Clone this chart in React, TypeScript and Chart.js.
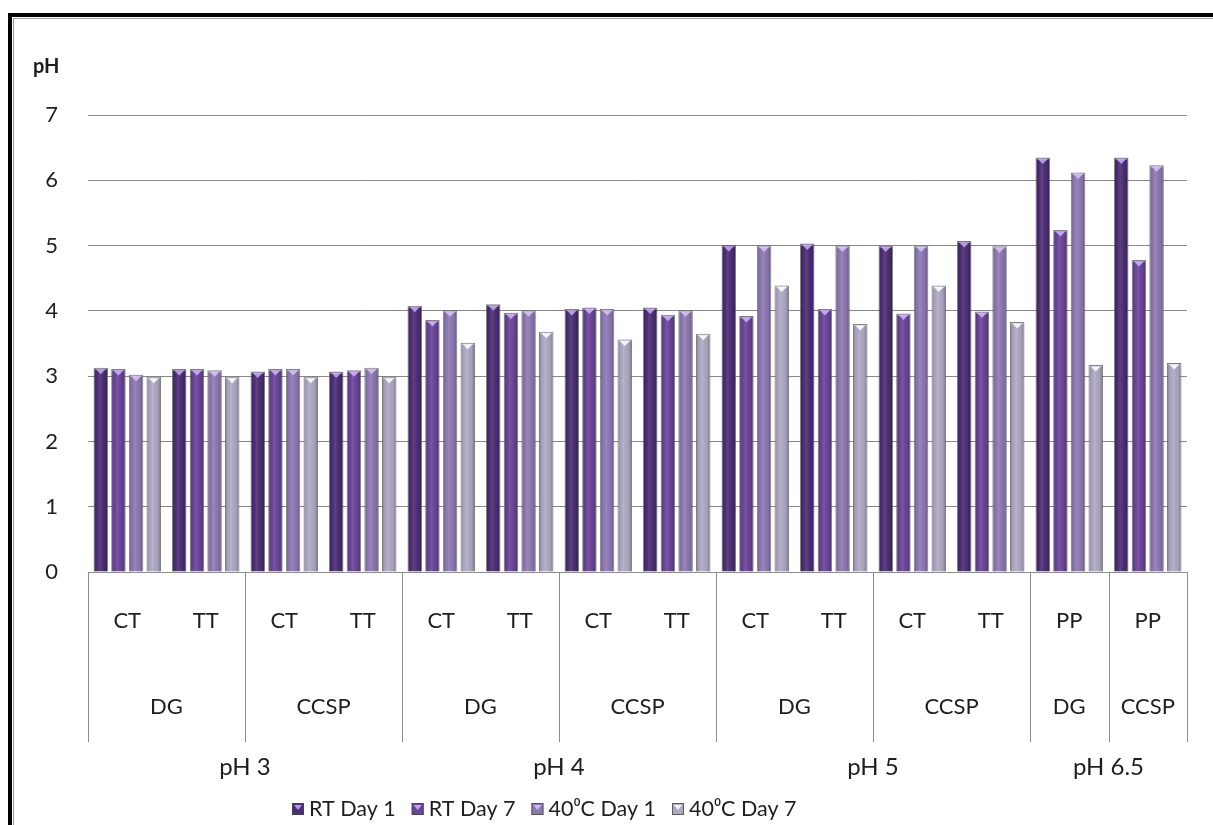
import React, { useEffect, useRef } from "react";
import { Chart, registerables } from "chart.js";

Chart.register(...registerables);

// ---- data ----
const categories = ["CT", "TT", "CT", "TT", "CT", "TT", "CT", "TT", "CT", "TT", "CT", "TT", "PP", "PP"];
const subgroupLabels = ["DG", "CCSP", "DG", "CCSP", "DG", "CCSP", "DG", "CCSP"];
const subgroupSpans = [2, 2, 2, 2, 2, 2, 1, 1];
const groupLabels = ["pH 3", "pH 4", "pH 5", "pH 6.5"];
const groupSpans = [4, 4, 4, 2];
const seriesNames = ["RT Day 1", "RT Day 7", "40\u2070C Day 1", "40\u2070C Day 7"];
const rtDay1 = [3.13, 3.11, 3.07, 3.07, 4.08, 4.1, 4.03, 4.05, 5.01, 5.03, 5.0, 5.07, 6.35, 6.35];
const rtDay7 = [3.11, 3.11, 3.11, 3.09, 3.86, 3.97, 4.05, 3.94, 3.92, 4.03, 3.96, 3.99, 5.24, 4.78];
const c40Day1 = [3.02, 3.09, 3.11, 3.13, 4.01, 4.01, 4.03, 4.01, 5.0, 5.0, 5.0, 4.99, 6.12, 6.23];
const c40Day7 = [2.99, 2.99, 2.99, 2.99, 3.51, 3.68, 3.56, 3.65, 4.39, 3.8, 4.39, 3.83, 3.17, 3.2];
const yMin = 0;
const yMax = 7;
const yStep = 1;
const yAxisTitle = "pH";

// ---- styles ----
const FONT = "Lato, 'Open Sans', sans-serif";
const seriesColors = ["#4B2D74", "#6A4499", "#8E79B4", "#B1A9C6"];
const capColors = ["#B697EA", "#C3A4F4", "#CDB8F0", "#F6F4FB"];

const barStylePlugin = {
  id: "barStyle",
  afterDatasetsDraw(chart: any) {
    const ctx = chart.ctx;
    ctx.save();
    chart.data.datasets.forEach((ds: any, di: number) => {
      const meta = chart.getDatasetMeta(di);
      meta.data.forEach((el: any) => {
        const { x, y, base, width } = el.getProps(["x", "y", "base", "width"], true);
        const left = x - width / 2;
        const h = base - y;
        const g = ctx.createLinearGradient(left, 0, left + width, 0);
        g.addColorStop(0, "rgba(0,0,0,0.28)");
        g.addColorStop(0.18, "rgba(0,0,0,0.05)");
        g.addColorStop(0.42, "rgba(255,255,255,0.10)");
        g.addColorStop(0.75, "rgba(0,0,0,0.05)");
        g.addColorStop(1, "rgba(0,0,0,0.30)");
        ctx.fillStyle = g;
        ctx.fillRect(left + 1, y + 1, width - 2, h - 1);
        ctx.fillStyle = capColors[di];
        ctx.beginPath();
        ctx.moveTo(x - width * 0.34, y + 1.5);
        ctx.lineTo(x + width * 0.34, y + 1.5);
        ctx.lineTo(x, y + 6.5);
        ctx.closePath();
        ctx.fill();
        ctx.strokeStyle = "rgba(255,255,255,0.35)";
        ctx.lineWidth = 1;
        ctx.beginPath();
        ctx.moveTo(left + 1, y + 1.5);
        ctx.lineTo(left + width - 1, y + 1.5);
        ctx.stroke();
      });
    });
    ctx.restore();
  },
};

const axisExtrasPlugin = {
  id: "axisExtras",
  afterDraw(chart: any) {
    const ctx = chart.ctx;
    const xs = chart.scales.x;
    const area = chart.chartArea;
    const cw = xs.getPixelForValue(1) - xs.getPixelForValue(0);
    const startX = xs.getPixelForValue(0) - cw / 2;
    const sepBottom = 742;
    ctx.save();
    ctx.strokeStyle = "#8c8c8c";
    ctx.lineWidth = 1;
    let idx = 0;
    const edges = [0];
    subgroupSpans.forEach((s) => {
      idx += s;
      edges.push(idx);
    });
    edges.forEach((e) => {
      const px = Math.round(startX + e * cw) + 0.5;
      ctx.beginPath();
      ctx.moveTo(px, area.bottom);
      ctx.lineTo(px, sepBottom);
      ctx.stroke();
    });
    ctx.fillStyle = "#1e1e1e";
    ctx.textAlign = "center";
    ctx.textBaseline = "middle";
    ctx.font = `22px ${FONT}`;
    idx = 0;
    subgroupLabels.forEach((lab, i) => {
      const c = startX + (idx + subgroupSpans[i] / 2) * cw;
      ctx.fillText(lab, c, 707);
      idx += subgroupSpans[i];
    });
    ctx.font = `24px ${FONT}`;
    idx = 0;
    groupLabels.forEach((lab, i) => {
      const c = startX + (idx + groupSpans[i] / 2) * cw;
      ctx.fillText(lab, c, 767);
      idx += groupSpans[i];
    });
    ctx.font = `bold 20px ${FONT}`;
    ctx.textAlign = "left";
    ctx.fillText(yAxisTitle, 33, 67);
    // legend
    ctx.font = `21.5px ${FONT}`;
    const box = 12;
    const gapBoxText = 5;
    const gapItems = 16;
    let lx = 292;
    const ly = 809;
    chart.data.datasets.forEach((ds: any, di: number) => {
      ctx.fillStyle = seriesColors[di];
      ctx.fillRect(lx, ly - box / 2, box, box);
      ctx.strokeStyle = "rgba(70,70,70,0.8)";
      ctx.strokeRect(lx + 0.5, ly - box / 2 + 0.5, box - 1, box - 1);
      ctx.fillStyle = capColors[di];
      ctx.beginPath();
      ctx.moveTo(lx + 2, ly - box / 2 + 2);
      ctx.lineTo(lx + box - 2, ly - box / 2 + 2);
      ctx.lineTo(lx + box / 2, ly + 1);
      ctx.closePath();
      ctx.fill();
      ctx.fillStyle = "#1e1e1e";
      ctx.textAlign = "left";
      ctx.fillText(ds.label, lx + box + gapBoxText, ly);
      lx += box + gapBoxText + ctx.measureText(ds.label).width + gapItems;
    });
    ctx.restore();
  },
};

export default function App() {
  const ref = useRef<HTMLCanvasElement | null>(null);
  useEffect(() => {
    if (!ref.current) return;
    const seriesData = [rtDay1, rtDay7, c40Day1, c40Day7];
    const chart = new Chart(ref.current, {
      type: "bar",
      data: {
        labels: categories,
        datasets: seriesData.map((d, i) => ({
          label: seriesNames[i],
          data: d,
          backgroundColor: seriesColors[i],
          borderColor: "rgba(85,85,85,0.75)",
          borderWidth: 1,
          categoryPercentage: 0.9,
          barPercentage: 0.82,
        })),
      },
      options: {
        responsive: false,
        animation: false,
        devicePixelRatio: 1,
        layout: { padding: { top: 115, left: 0, right: 26, bottom: 0 } },
        plugins: {
          legend: { display: false },
          tooltip: { enabled: false },
          title: { display: false },
        },
        scales: {
          x: {
            grid: { display: false, drawTicks: false },
            border: { display: true, color: "#8c8c8c" },
            ticks: {
              font: { family: FONT, size: 22 },
              color: "#1e1e1e",
              padding: 36,
              maxRotation: 0,
              autoSkip: false,
            },
            afterFit: (s: any) => {
              s.height = 253;
            },
          },
          y: {
            min: yMin,
            max: yMax,
            ticks: {
              stepSize: yStep,
              font: { family: FONT, size: 22 },
              color: "#1e1e1e",
              padding: 30,
            },
            grid: { color: "#888888", drawTicks: false },
            border: { display: false },
            afterFit: (s: any) => {
              s.width = 88;
            },
          },
        },
      },
      plugins: [barStylePlugin, axisExtrasPlugin],
    });
    return () => chart.destroy();
  }, []);

  return (
    <div
      style={{
        position: "fixed",
        left: 0,
        top: 0,
        width: 1213,
        height: 825,
        overflow: "hidden",
        background: "#fff",
      }}
    >
      <div
        style={{
          position: "absolute",
          left: 8,
          top: 13,
          width: 1400,
          height: 1000,
          border: "4px solid #000",
          boxShadow: "inset 0 0 0 1px #fff, inset 0 0 0 2px #9a9a9a",
          boxSizing: "border-box",
        }}
      />
      <canvas
        ref={ref}
        width={1213}
        height={825}
        style={{ position: "absolute", left: 0, top: 0, width: 1213, height: 825 }}
      />
    </div>
  );
}
